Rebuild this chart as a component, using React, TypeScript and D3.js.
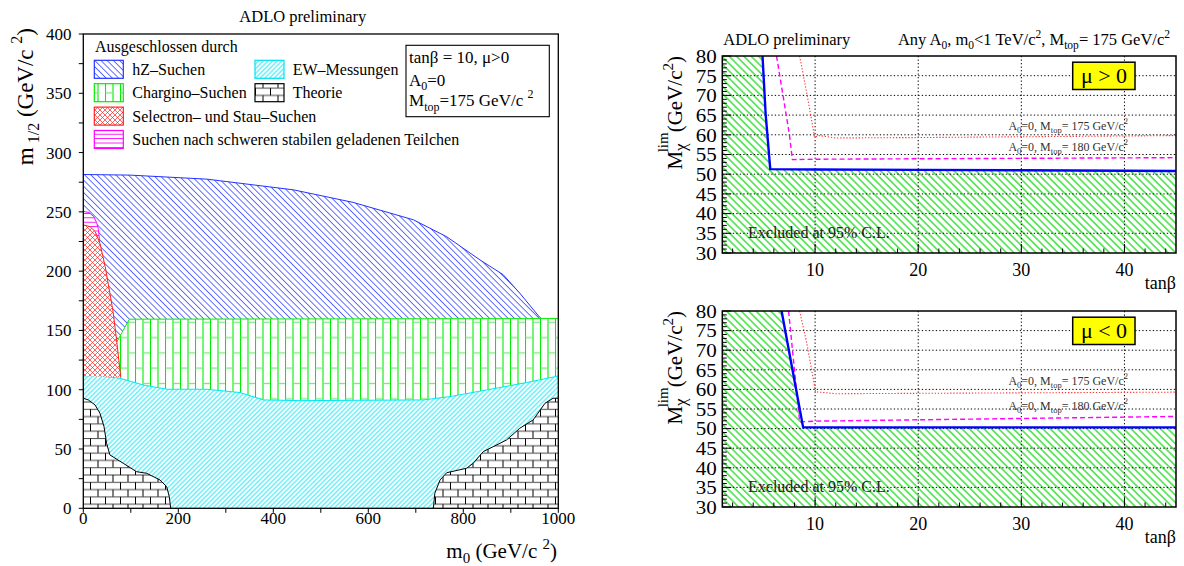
import React from "react";
import * as d3 from "d3";

const FONT = "'Liberation Serif', 'Times New Roman', serif";

type Pt = [number, number];

// ---------- m0 – m1/2 plane, tanβ = 10, μ > 0 ----------
const m0Ticks = [0, 200, 400, 600, 800, 1000];
const m0Minor = [0, 100, 200, 300, 400, 500, 600, 700, 800, 900, 1000];
const m12Ticks = [0, 50, 100, 150, 200, 250, 300, 350, 400];
const m12Minor = [0, 25, 50, 75, 100, 125, 150, 175, 200, 225, 250, 275, 300, 325, 350, 375, 400];

// hZ search limit (upper edge)
const hzEdge: Pt[] = [
  [0, 281.5], [98, 281], [260, 277.6], [442, 268.6], [568, 258], [695, 243.3],
  [765, 229], [835, 209.5], [884, 197], [919, 181.4], [961, 161], [966, 159.5],
];
// chargino search limit (upper edge)
const charginoEdge: Pt[] = [[70, 140], [97, 159.5], [1000, 160]];
// electroweak measurements (upper edge)
const ewEdge: Pt[] = [
  [0, 111.6], [28, 111.9], [77, 109.7], [126, 104], [176, 100.4], [260, 100.4],
  [330, 97.6], [379, 91.4], [456, 90.8], [716, 91.4], [772, 94.2], [849, 99.8],
  [933, 106], [1000, 111.6],
];
// theoretically excluded, low m0
const theoryLowEdge: Pt[] = [
  [0, 92.8], [10.5, 91.4], [24.6, 87.2], [35, 80.2], [43.6, 68.9], [49, 54.9],
  [56, 45], [84, 38], [112, 30.9], [133.5, 29.5], [161.5, 23.9], [175.6, 18.2],
  [181, 9.8], [184, 0],
];
// theoretically excluded, high m0
const theoryHighEdge: Pt[] = [
  [737, 0], [740, 12.6], [751, 23.9], [765, 30], [807, 33.8], [821, 38],
  [842, 47.8], [863, 52], [891, 57.6], [919, 67.5], [947, 74.5], [972, 88.6],
  [989, 92.8], [1000, 92.8],
];
// selectron and stau searches
const selectronEdge: Pt[] = [
  [0, 239], [14, 237.6], [25, 233.4], [35, 223.6], [46, 204], [56, 181.4],
  [63, 165], [70, 142], [79, 110.5],
];
// heavy stable charged particles
const stableEdge: Pt[] = [[0, 250.3], [12, 249.5], [22, 246], [28, 241], [32, 235], [34, 226], [34.5, 218]];

const legendTitle = "Ausgeschlossen durch";
const legendLabels = [
  ["hZ–Suchen", "EW–Messungen"],
  ["Chargino–Suchen", "Theorie"],
  ["Selectron– und Stau–Suchen"],
  ["Suchen nach schweren stabilen geladenen Teilchen"],
];
const legendPatterns = [["hz", "ew"], ["chg", "thy"], ["sel"], ["stb"]];
const legendColors = [["#2233ff", "#00e0f0"], ["#00ee00", "#000"], ["#ff2222"], ["#ff00ff"]];

// ---------- M_χ limit vs tanβ ----------
const tanBetaTicks = [10, 20, 30, 40];
const tanBetaMinor = [2, 4, 6, 8, 10, 12, 14, 16, 18, 20, 22, 24, 26, 28, 30, 32, 34, 36, 38, 40, 42, 44];
const mLimTicks = [30, 35, 40, 45, 50, 55, 60, 65, 70, 75, 80];
const mLimGrid = [35, 40, 45, 50, 55, 60, 65, 70, 75];
const mLimMinor = d3.range(30, 81, 1);

// μ > 0
const posExcluded: Pt[] = [[4.9, 80], [5.2, 65.4], [5.65, 51.3], [10, 51.2], [20, 51.1], [30, 51.0], [45, 50.8]];
const posMtop175: Pt[] = [[8.5, 80], [9.2, 70.5], [9.95, 59.4], [10.4, 59.8], [12, 59.2], [20, 59.3], [45, 59.8]];
const posMtop180: Pt[] = [[6.26, 80], [7.5, 60.2], [7.8, 53.7], [10, 53.8], [45, 54.2]];
// μ < 0
const negExcluded: Pt[] = [[6.75, 80], [8.84, 50.3], [20, 50.3], [45, 50.3]];
const negMtop175: Pt[] = [[8.5, 80], [9.2, 71.7], [10.05, 59.4], [12, 58.9], [20, 59.0], [45, 59.3]];
const negMtop180: Pt[] = [[7.43, 80], [8.5, 51.7], [10, 51.9], [45, 53.1]];

const xL = d3.scaleLinear().domain([0, 1000]).range([83.3, 558.3]);
const yL = d3.scaleLinear().domain([0, 400]).range([508.3, 34]);
const lineL = d3.line<Pt>().x((d) => xL(d[0])).y((d) => yL(d[1]));
const polyL = (pts: Pt[]) => (lineL(pts) || "") + "Z";

const xR = d3.scaleLinear().domain([1, 45]).range([722.3, 1176]);

function Region({ pts, pat, edge, color, width = 1 }: { pts: Pt[]; pat: string; edge?: Pt[]; color: string; width?: number }) {
  return (
    <g>
      <path d={polyL(pts)} fill="#fff" />
      <path d={polyL(pts)} fill={`url(#${pat})`} />
      {edge && <path d={lineL(edge) || ""} fill="none" stroke={color} strokeWidth={width} />}
    </g>
  );
}

function LeftPanel() {
  const hzPoly: Pt[] = [...hzEdge, [97, 159.5], [79, 110], [0, 110]];
  const chgPoly: Pt[] = [...charginoEdge, [1000, 85], [70, 85]];
  const ewPoly: Pt[] = [...ewEdge, [1000, 0], [0, 0]];
  const thyLow: Pt[] = [...theoryLowEdge, [0, 0]];
  const thyHigh: Pt[] = [...theoryHighEdge, [1000, 0]];
  const stbPoly: Pt[] = [...stableEdge, [0, 218]];
  const selPoly: Pt[] = [...selectronEdge, [0, 111.6]];
  const rowY = (i: number) => 69.3 + i * 23.4;
  const colBox = [94.3, 255];
  const colText = [132.3, 292.7];
  return (
    <g>
      <text x={302.8} y={22} fontSize={16.5} textAnchor="middle">ADLO preliminary</text>
      <Region pts={hzPoly} pat="hz" edge={hzEdge} color="#2233ff" />
      <Region pts={chgPoly} pat="chg" edge={[[1000, 160], ...charginoEdge.slice().reverse()]} color="#00ee00" />
      <Region pts={ewPoly} pat="ew" edge={ewEdge} color="#00e8f8" />
      <Region pts={thyLow} pat="thy" edge={theoryLowEdge} color="#000" />
      <Region pts={thyHigh} pat="thy" edge={theoryHighEdge} color="#000" />
      <Region pts={stbPoly} pat="stb" edge={stableEdge} color="#ff00ff" />
      <Region pts={selPoly} pat="sel" edge={selectronEdge} color="#ff2222" />

      {/* frame */}
      <rect x={xL(0)} y={yL(400)} width={xL(1000) - xL(0)} height={yL(0) - yL(400)} fill="none" stroke="#000" strokeWidth={1.3} />
      {m0Minor.map((v) => (
        <line key={"xm" + v} x1={xL(v)} x2={xL(v)} y1={yL(0)} y2={yL(0) + 4.5} stroke="#000" strokeWidth={1} />
      ))}
      {m12Minor.map((v) => (
        <line key={"ym" + v} x1={xL(0) - 4.5} x2={xL(0)} y1={yL(v)} y2={yL(v)} stroke="#000" strokeWidth={1} />
      ))}
      {m0Ticks.map((v) => (
        <text key={"xt" + v} x={xL(v)} y={524} fontSize={17} textAnchor="middle">{v}</text>
      ))}
      {m12Ticks.map((v) => (
        <text key={"yt" + v} x={71.5} y={yL(v) + 6} fontSize={17} textAnchor="end">{v}</text>
      ))}
      <text x={557} y={558} fontSize={21} textAnchor="end">
        m<tspan dy={5} fontSize={15}>0</tspan><tspan dy={-5}> (GeV/c </tspan><tspan dy={-9} fontSize={15}>2</tspan><tspan dy={9}>)</tspan>
      </text>
      <text transform="translate(33,28) rotate(-90)" fontSize={23} textAnchor="end">
        m<tspan dy={6} fontSize={16}> 1/2</tspan><tspan dy={-6}> (GeV/c </tspan><tspan dy={-11} fontSize={16}>2</tspan><tspan dy={11}>)</tspan>
      </text>

      {/* legend */}
      <text x={95} y={51.5} fontSize={16}>{legendTitle}</text>
      {legendLabels.map((row, i) =>
        row.map((label, j) => (
          <g key={label}>
            <rect x={colBox[j]} y={rowY(i) - 9} width={29} height={18} fill="#fff" />
            <rect x={colBox[j]} y={rowY(i) - 9} width={29} height={18} fill={`url(#${legendPatterns[i][j]})`} stroke={legendColors[i][j]} strokeWidth={1.2} />
            <text x={colText[j]} y={rowY(i) + 5.5} fontSize={16}>{label}</text>
          </g>
        ))
      )}
      {/* parameter box */}
      <rect x={406} y={45.3} width={143.3} height={71.4} fill="#fff" stroke="#000" strokeWidth={1.1} />
      <text x={409} y={63} fontSize={17}>tanβ = 10,  μ&gt;0</text>
      <text x={409} y={86} fontSize={17}>A<tspan dy={4} fontSize={12}>0</tspan><tspan dy={-4}>=0</tspan></text>
      <text x={409} y={106} fontSize={17}>
        M<tspan dy={5} fontSize={12}>top</tspan><tspan dy={-5}>=175 GeV/c </tspan><tspan dy={-8} fontSize={12}>2</tspan>
      </text>
    </g>
  );
}

function MtopLabel({ x, y, mass }: { x: number; y: number; mass: number }) {
  return (
    <text x={x} y={y} fontSize={12} textAnchor="end" fill="#333">
      A<tspan dy={3} fontSize={8.5}>0</tspan><tspan dy={-3}>=0, M</tspan><tspan dy={3} fontSize={8.5}>top</tspan>
      <tspan dy={-3}>= {mass} GeV/c</tspan><tspan dy={-6} fontSize={8.5}>2</tspan>
    </text>
  );
}

function LimitPanel({ id, yTop, yBottom, excluded, mtop175, mtop180, sign, lab175, lab180 }: {
  id: string; yTop: number; yBottom: number; excluded: Pt[]; mtop175: Pt[]; mtop180: Pt[];
  sign: string; lab175: number; lab180: number;
}) {
  const y = d3.scaleLinear().domain([30, 80]).range([yBottom, yTop]);
  const line = d3.line<Pt>().x((d) => xR(d[0])).y((d) => y(d[1]));
  const area: Pt[] = [[1, 30], [1, 80], ...excluded, [45, 30]];
  const x0 = xR(1), x1 = xR(45);
  return (
    <g>
      <defs>
        <clipPath id={"clip" + id}>
          <rect x={x0} y={yTop} width={x1 - x0} height={yBottom - yTop} />
        </clipPath>
      </defs>
      <g clipPath={`url(#clip${id})`}>
        <path d={(line(area) || "") + "Z"} fill="url(#grn)" />
        {tanBetaTicks.map((v) => (
          <line key={"gx" + v} x1={xR(v)} x2={xR(v)} y1={yTop} y2={yBottom} stroke="#000" strokeWidth={1} strokeDasharray="1.3,2.2" />
        ))}
        {mLimGrid.map((v) => (
          <line key={"gy" + v} x1={x0} x2={x1} y1={y(v)} y2={y(v)} stroke="#000" strokeWidth={1} strokeDasharray="1.3,2.2" />
        ))}
        <path d={line(mtop175) || ""} fill="none" stroke="#ff3333" strokeWidth={1.1} strokeDasharray="1.3,1.8" />
        <path d={line(mtop180) || ""} fill="none" stroke="#ff00ff" strokeWidth={1.4} strokeDasharray="5,3" />
        <path d={line(excluded) || ""} fill="none" stroke="#0000ff" strokeWidth={2.4} />
      </g>
      <rect x={x0} y={yTop} width={x1 - x0} height={yBottom - yTop} fill="none" stroke="#000" strokeWidth={1.5} />
      {tanBetaMinor.map((v) => (
        <line key={"tx" + v} x1={xR(v)} x2={xR(v)} y1={yBottom} y2={yBottom - (v % 10 === 0 ? 9 : 4.5)} stroke="#000" strokeWidth={1} />
      ))}
      {mLimMinor.map((v) => (
        <line key={"ty" + v} x1={x0} x2={x0 + (v % 5 === 0 ? 9 : 4.5)} y1={y(v)} y2={y(v)} stroke="#000" strokeWidth={1} />
      ))}
      {tanBetaTicks.map((v) => (
        <text key={"lx" + v} x={xR(v)} y={yBottom + 23} fontSize={18} textAnchor="middle">{v}</text>
      ))}
      {mLimTicks.map((v) => (
        <text key={"ly" + v} x={716.7} y={y(v) + 6.8} fontSize={19} textAnchor="end" textLength={21} lengthAdjust="spacingAndGlyphs">{v}</text>
      ))}
      <text x={1176} y={yBottom + 36} fontSize={18} textAnchor="end">tanβ</text>
      <text transform={`translate(682,${yTop}) rotate(-90)`} fontSize={21} textAnchor="end">
        M<tspan dy={4} fontSize={17}>χ</tspan><tspan dx={-9} dy={-18} fontSize={15}>lim</tspan>
        <tspan dy={14} fontSize={21}>(GeV/c</tspan><tspan dy={-9} fontSize={15}>2</tspan><tspan dy={9}>)</tspan>
      </text>
      <text x={748} y={y(35) + 5} fontSize={16} fill="#222">Excluded at 95% C.L.</text>
      <MtopLabel x={1128} y={y(lab175) + 4} mass={175} />
      <MtopLabel x={1128} y={y(lab180) + 4} mass={180} />
      <rect x={1072.7} y={yTop + 6.2} width={62.3} height={27.3} fill="#ffff00" stroke="#000" strokeWidth={1.5} />
      <text x={1104} y={yTop + 27} fontSize={22} textAnchor="middle">μ {sign} 0</text>
    </g>
  );
}

export default function App() {
  return (
    <svg width={1184} height={566} style={{ position: "absolute", left: 0, top: 0, background: "#fff" }} fontFamily={FONT}>
      <defs>
        <pattern id="hz" width={4.4} height={10} patternUnits="userSpaceOnUse" patternTransform="rotate(-45)">
          <line x1={2.2} y1={0} x2={2.2} y2={10} stroke="#3344ff" strokeWidth={0.8} />
        </pattern>
        <pattern id="ew" width={3.3} height={10} patternUnits="userSpaceOnUse" patternTransform="rotate(45)">
          <line x1={1.6} y1={0} x2={1.6} y2={10} stroke="#11e4f4" strokeWidth={0.9} />
        </pattern>
        <pattern id="chg" width={15} height={30.6} patternUnits="userSpaceOnUse">
          <line x1={0.5} y1={0} x2={0.5} y2={30.6} stroke="#00ee00" strokeWidth={1.1} />
          <line x1={8} y1={0} x2={8} y2={30.6} stroke="#00ee00" strokeWidth={1.1} />
          <line x1={0.5} y1={1} x2={8} y2={1} stroke="#77ee77" strokeWidth={1.3} />
          <line x1={8} y1={16.3} x2={15} y2={16.3} stroke="#77ee77" strokeWidth={1.3} />
        </pattern>
        <pattern id="thy" width={15} height={14.6} patternUnits="userSpaceOnUse">
          <line x1={0} y1={0.5} x2={15} y2={0.5} stroke="#555" strokeWidth={1.1} />
          <line x1={0} y1={7.8} x2={15} y2={7.8} stroke="#555" strokeWidth={1.1} />
          <line x1={0.5} y1={0.5} x2={0.5} y2={7.8} stroke="#000" strokeWidth={1} />
          <line x1={8} y1={7.8} x2={8} y2={14.6} stroke="#000" strokeWidth={1} />
        </pattern>
        <pattern id="sel" width={5} height={5} patternUnits="userSpaceOnUse">
          <line x1={0} y1={0} x2={5} y2={5} stroke="#ff2222" strokeWidth={0.7} />
          <line x1={0} y1={5} x2={5} y2={0} stroke="#ff2222" strokeWidth={0.7} />
        </pattern>
        <pattern id="stb" width={10} height={4.4} patternUnits="userSpaceOnUse">
          <line x1={0} y1={2.2} x2={10} y2={2.2} stroke="#ff00ff" strokeWidth={0.9} />
        </pattern>
        <pattern id="grn" width={5.2} height={10} patternUnits="userSpaceOnUse" patternTransform="rotate(-45)">
          <line x1={2.6} y1={0} x2={2.6} y2={10} stroke="#22dd22" strokeWidth={1.3} />
        </pattern>
      </defs>
      <rect x={0} y={0} width={1184} height={566} fill="#fff" />
      <LeftPanel />
      <text x={723.3} y={45} fontSize={16.5}>ADLO preliminary</text>
      <text x={1170} y={45} fontSize={16.5} textAnchor="end">
        Any A<tspan dy={4} fontSize={11.5}>0</tspan><tspan dy={-4}>, m</tspan><tspan dy={4} fontSize={11.5}>0</tspan>
        <tspan dy={-4}>&lt;1 TeV/c</tspan><tspan dy={-7} fontSize={11.5}>2</tspan><tspan dy={7}>, M</tspan>
        <tspan dy={4} fontSize={11.5}>top</tspan><tspan dy={-4}>= 175 GeV/c</tspan><tspan dy={-7} fontSize={11.5}>2</tspan>
      </text>
      <LimitPanel id="pos" yTop={56} yBottom={253} excluded={posExcluded} mtop175={posMtop175} mtop180={posMtop180} sign=">" lab175={62.2} lab180={56.9} />
      <LimitPanel id="neg" yTop={311} yBottom={507} excluded={negExcluded} mtop175={negMtop175} mtop180={negMtop180} sign="<" lab175={62.1} lab180={55.8} />
    </svg>
  );
}
